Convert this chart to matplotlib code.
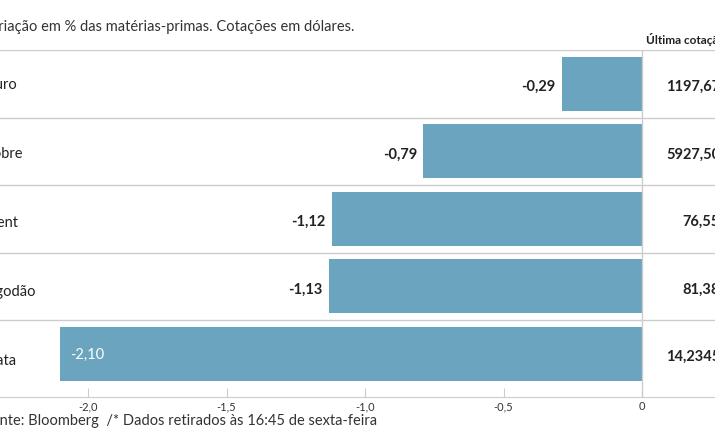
import matplotlib.pyplot as plt
from matplotlib import font_manager

# -----------------------------
# Data
# -----------------------------
materias = ["Ouro", "Cobre", "Brent", "Algodão", "Prata"]
variacao = [-0.29, -0.79, -1.12, -1.13, -2.10]
cotacao = ["1197,67", "5927,50", "76,55", "81,38", "14,2345"]
ticks = [-2.0, -1.5, -1.0, -0.5, 0.0]
tick_labels = ["-2,0", "-1,5", "-1,0", "-0,5", "0"]

titulo = "Variação em % das matérias-primas. Cotações em dólares."
cabecalho = "Última cotação*"
fonte = "Fonte: Bloomberg  /* Dados retirados às 16:45 de sexta-feira"

# -----------------------------
# Style
# -----------------------------
W, H = 715, 445
ROW = 67.5          # row height in px
bar_color = "#6aa4be"
grid_color = "#cccccc"
text_color = "#222222"
plt.rcParams["font.family"] = ["Lato", "DejaVu Sans"]

names = {f.name for f in font_manager.fontManager.ttflist}
narrow = "Liberation Sans Narrow" if "Liberation Sans Narrow" in names else "Lato"

# x scale: 0 at px 642, -2 at px 88
px_per_unit = (642 - 88) / 2.0
x_left = -642 / px_per_unit
x_right = (W - 642) / px_per_unit


def px(x):
    return x / W


def py(y):
    return 1 - y / H


fig = plt.figure(figsize=(W / 100, H / 100), dpi=100)
ax = fig.add_axes([0, py(397), 1, py(50) - py(397)])

n = len(materias)
pos = list(range(n))
ax.barh(pos, variacao, height=0.8, color=bar_color, zorder=2)
ax.set_xlim(x_left, x_right)
ax.set_ylim(n - 0.5 + 9.5 / ROW, -0.5)

# row separators and zero line
for i in range(n):
    ax.axhline(i - 0.5, color=grid_color, lw=1, zorder=1)
ax.axvline(0, color=grid_color, lw=1, zorder=3)

for s in ["top", "left", "right"]:
    ax.spines[s].set_visible(False)
ax.spines["bottom"].set_color(grid_color)
ax.set_yticks([])
ax.set_xticks(ticks)
ax.set_xticklabels(tick_labels)
ax.tick_params(axis="x", direction="in", length=6.5, color=grid_color,
               labelsize=8, labelcolor="#333333", pad=3)

off = 6 / px_per_unit
dy = 2 / ROW  # labels sit a touch below the row centre
for i, (nome, v, c) in enumerate(zip(materias, variacao, cotacao)):
    # category names drift slightly lower row by row in the original
    ax.text(x_left - 17 / px_per_unit, i * 69 / ROW, nome, ha="left",
            va="center_baseline", fontsize=10.5, color=text_color)
    lab = f"{v:.2f}".replace(".", ",")
    if v <= -2.0:
        ax.text(v + 10 / px_per_unit, i, lab, ha="left", va="center_baseline",
                fontsize=10.5, color="white")
    else:
        ax.text(v - off, i + dy, lab, ha="right", va="center_baseline",
                fontsize=10.5, fontweight="bold", color=text_color)
    ax.text((720 - 642) / px_per_unit, i + dy, c, ha="right",
            va="center_baseline", fontsize=10.5, fontweight="bold",
            color=text_color, clip_on=False)

fig.text(px(-19), py(27), titulo, ha="left", va="center", fontsize=10.5,
         color="#333333")
fig.text(px(646), py(40), cabecalho, ha="left", va="center", fontsize=8.5,
         fontweight="bold", color=text_color)
fig.text(px(-17), py(421), fonte, ha="left", va="center", fontsize=10.5,
         color="#333333", family=narrow)

fig.savefig("out.png", dpi=100)
